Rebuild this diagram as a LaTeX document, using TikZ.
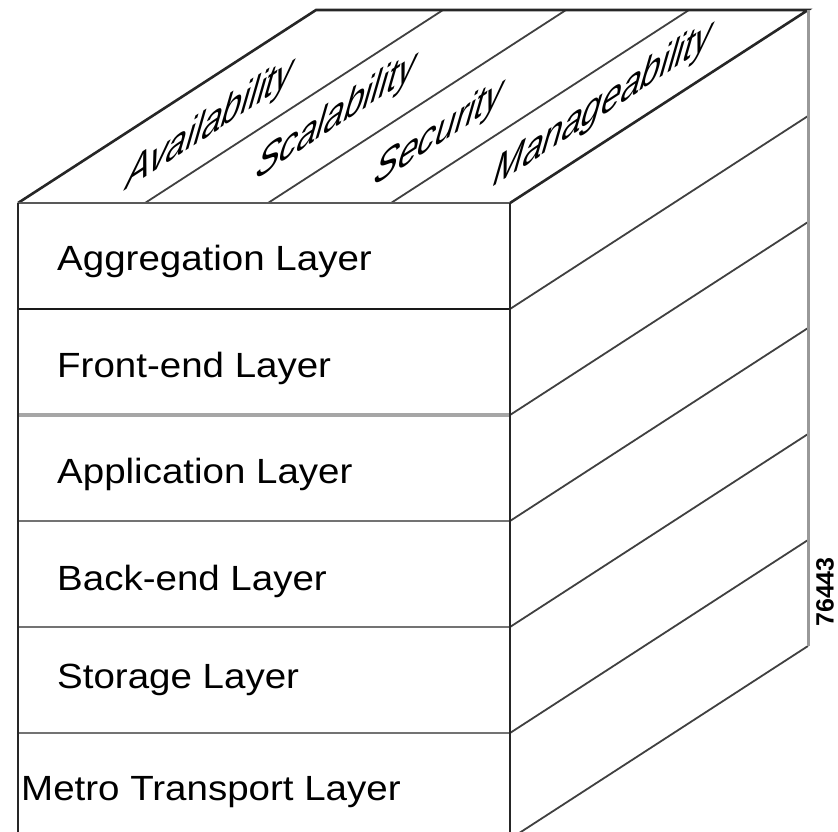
\documentclass[tikz,border=0pt]{standalone}
\usepackage{fontspec}
\setmainfont{Liberation Sans}
\begin{document}
\begin{tikzpicture}[x=1pt,y=-1pt,
  edge/.style={line width=2.6pt, draw=black!85},
  diag/.style={line width=1.8pt, draw=black!75},
  sepblack/.style={line width=2.4pt, draw=black!90},
  seplight/.style={line width=3.6pt, draw=black!35},
  sepgray/.style={line width=2.8pt, draw=black!55},
  backedge/.style={line width=3pt, draw=black!40},
  layertext/.style={anchor=base west, inner sep=0pt, font=\fontsize{35}{40}\selectfont},
  toplabel/.style={inner sep=0pt, font=\fontsize{42}{46}\selectfont, transform shape, cm={0.839,0.545,0.330,1.150,(0,0)}},
  figno/.style={inner sep=0pt, rotate=90, font=\fontsize{25}{25}\selectfont\bfseries}]
\useasboundingbox (0,0) rectangle (838,831);
\clip (0,0) rectangle (838,831);
% corners
\coordinate (FL) at (18,203);
\coordinate (FR) at (510,203);
\coordinate (BR) at (808,10);
\coordinate (BL) at (316,10);
\coordinate (FLb) at (18,839);
\coordinate (FRb) at (510,839);
\coordinate (BRb) at (808,646);
% top face dividers
\coordinate (d1f) at (145,203); \coordinate (d1b) at (443,10);
\coordinate (d2f) at (268,203); \coordinate (d2b) at (566,10);
\coordinate (d3f) at (391,203); \coordinate (d3b) at (689,10);
% layer levels front-left / front-right / back
\foreach \i/\y in {1/309,2/415,3/521,4/627,5/733}{
  \coordinate (L\i) at (18,\y);
  \coordinate (R\i) at (510,\y);
  \pgfmathsetmacro{\yb}{\y-193}
  \coordinate (B\i) at (808,\yb);
}
% top face
\draw[diag] (d1f) -- (d1b);
\draw[diag] (d2f) -- (d2b);
\draw[diag] (d3f) -- (d3b);
\draw[edge] (FL) -- (BL) -- (BR) -- (FR);
\draw[line width=2.6pt, draw=black!65] (FL) -- (FR);
% right face
\foreach \i in {1,...,5}{ \draw[diag] (R\i) -- (B\i); }
\draw[diag] (FRb) -- (BRb);
\draw[backedge] (BR) -- (BRb);
% front face separators
\draw[sepblack] (L1) -- (R1);
\draw[seplight] (L2) -- (R2);
\draw[sepgray] (L3) -- (R3);
\draw[sepgray] (L4) -- (R4);
\draw[sepgray] (L5) -- (R5);
\draw[edge] (FL) -- (FLb);
\draw[edge] (FR) -- (FRb);
% layer labels
\node[layertext] (agg) at (57,270) {\scalebox{1.1}[1]{Aggregation Layer}};
\node[layertext] (fe) at (57,377) {\scalebox{1.1}[1]{Front-end Layer}};
\node[layertext] (app) at (57,483) {\scalebox{1.1}[1]{Application Layer}};
\node[layertext] (be) at (57,590) {\scalebox{1.1}[1]{Back-end Layer}};
\node[layertext] (sto) at (57,688) {\scalebox{1.1}[1]{Storage Layer}};
\node[layertext] (met) at (21,800) {\scalebox{1.1}[1]{Metro Transport Layer}};
% top labels
\begin{scope}[shift={(210,125)}]\node[toplabel] (avail) at (0,0) {Availability};\end{scope}
\begin{scope}[shift={(336,117)}]\node[toplabel] (scal) at (0,0) {Scalability};\end{scope}
\begin{scope}[shift={(439,134)}]\node[toplabel] (secu) at (0,0) {Security};\end{scope}
\begin{scope}[shift={(603,105)}]\node[toplabel] (mana) at (0,0) {Manageability};\end{scope}
% figure number
\node[figno] (num) at (825,592) {76443};
\end{tikzpicture}
\end{document}
